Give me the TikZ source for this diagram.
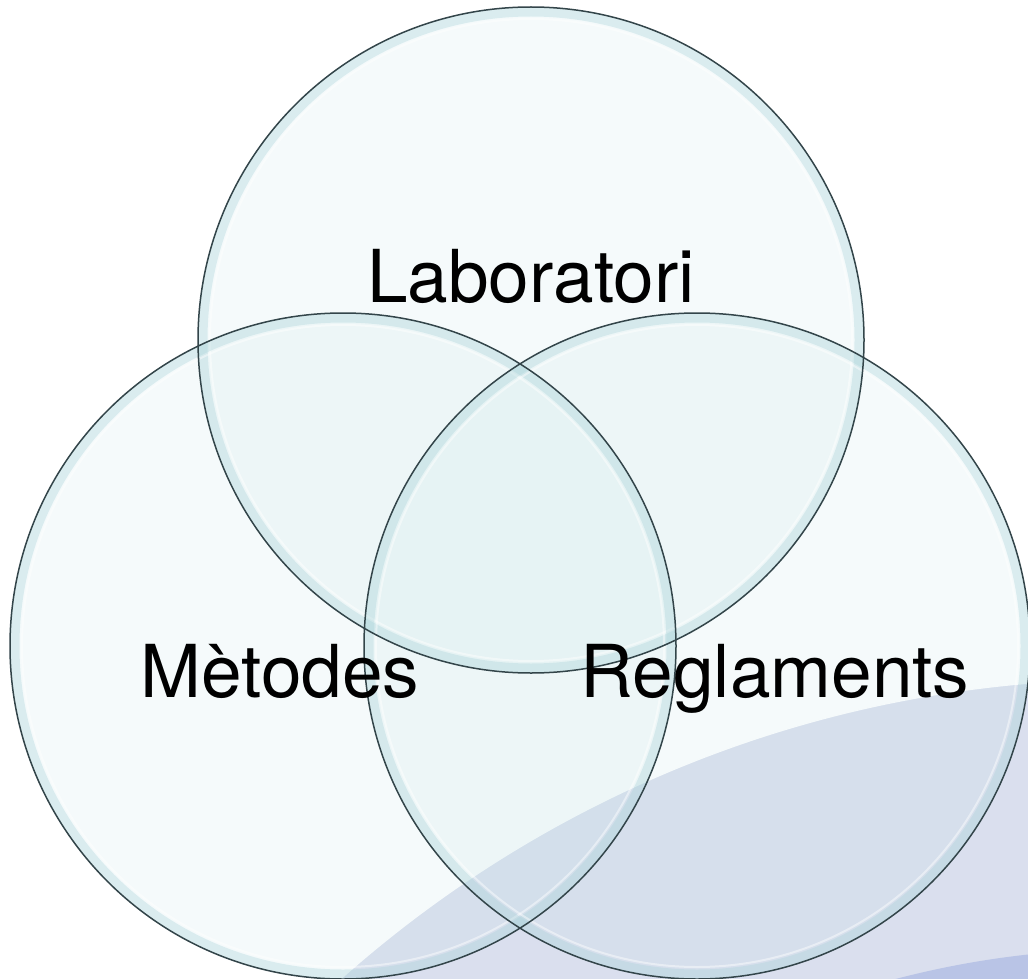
\documentclass[tikz,border=0pt]{standalone}
\usepackage{fontspec}
\setmainfont{TeX Gyre Heros}
\definecolor{lavender}{HTML}{DADFEE}
\definecolor{lavenderdark}{HTML}{B9C4E6}
\definecolor{glass}{HTML}{C2E2E6}
\definecolor{rimcol}{HTML}{A9D3D9}
\definecolor{edgecol}{HTML}{33454A}
\tikzset{
  venn/.style={circle, minimum size=666pt, inner sep=0pt, fill=glass, fill opacity=0.15},
  vennrim/.style={rimcol, line width=9pt, opacity=0.35},
  vennshine/.style={white, line width=2pt, opacity=0.45},
  vennedge/.style={edgecol, line width=1.5pt},
  setname/.style={anchor=base, font=\fontsize{73}{80}\selectfont, text=black}
}
\begin{document}
\begin{tikzpicture}[x=1pt, y=-1pt]
  \useasboundingbox (0,0) rectangle (1028,979);
  \fill[white] (0,0) rectangle (1028,979);
  % background swoosh
  \begin{scope}
    \clip (0,0) rectangle (1028,979);
    \fill[lavender] (1129,1865) circle (1186pt);
    \fill[lavenderdark] (1129,1865) circle (916pt);
    \draw[white, line width=1.2pt] (1129,1865) circle (1186pt);
  \end{scope}
  % the three sets
  \node[venn] (lab) at (531,340) {};
  \node[venn] (met) at (343,646) {};
  \node[venn] (reg) at (697,646) {};
  \foreach \s in {lab,met,reg} {
    \draw[vennrim] (\s.center) circle (328pt);
    \draw[vennshine] (\s.center) circle (321pt);
  }
  \foreach \s in {lab,met,reg}
    \draw[vennedge] (\s.center) circle (333pt);
  % names
  \node[setname] (labname) at (531,302) {Laboratori};
  \node[setname] (metname) at (280,697) {Mètodes};
  \node[setname] (regname) at (775,697) {Reglaments};
\end{tikzpicture}
\end{document}
